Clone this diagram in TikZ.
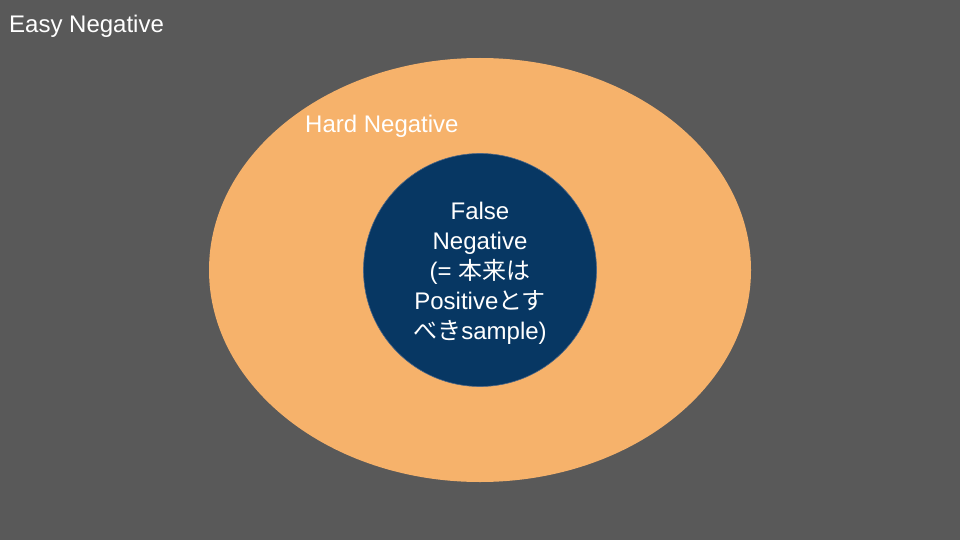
\documentclass[tikz,border=0pt]{standalone}
\usepackage{fontspec}
\setmainfont{Liberation Sans}
\newfontfamily\jp{Noto Sans CJK JP}
\definecolor{bgc}{HTML}{595959}
\definecolor{orangec}{HTML}{F6B26B}
\definecolor{bluec}{HTML}{073763}
\definecolor{blueedge}{HTML}{4A6585}
\begin{document}
\begin{tikzpicture}[x=1pt,y=-1pt,
  lbl/.style={text=white,inner sep=0pt,font=\fontsize{24}{30}\selectfont}]
\fill[bgc] (0,0) rectangle (960,540);
\useasboundingbox (0,0) rectangle (960,540);
\coordinate (ctr) at (480,270);
\fill[orangec] (ctr) ellipse [x radius=271, y radius=212];
\draw[fill=bluec,draw=blueedge,line width=0.6pt] (ctr) circle [radius=116.5];
\node[lbl,anchor=base west] (easy) at (9,33) {Easy Negative};
\node[lbl,anchor=base west] (hardlbl) at (305,133) {Hard Negative};
\node[lbl,align=center,anchor=center] (falselbl) at (480,273)
  {False\\Negative\\(= {\jp 本来は}\\Positive{\jp とす}\\{\jp べき}sample)};
\end{tikzpicture}
\end{document}
